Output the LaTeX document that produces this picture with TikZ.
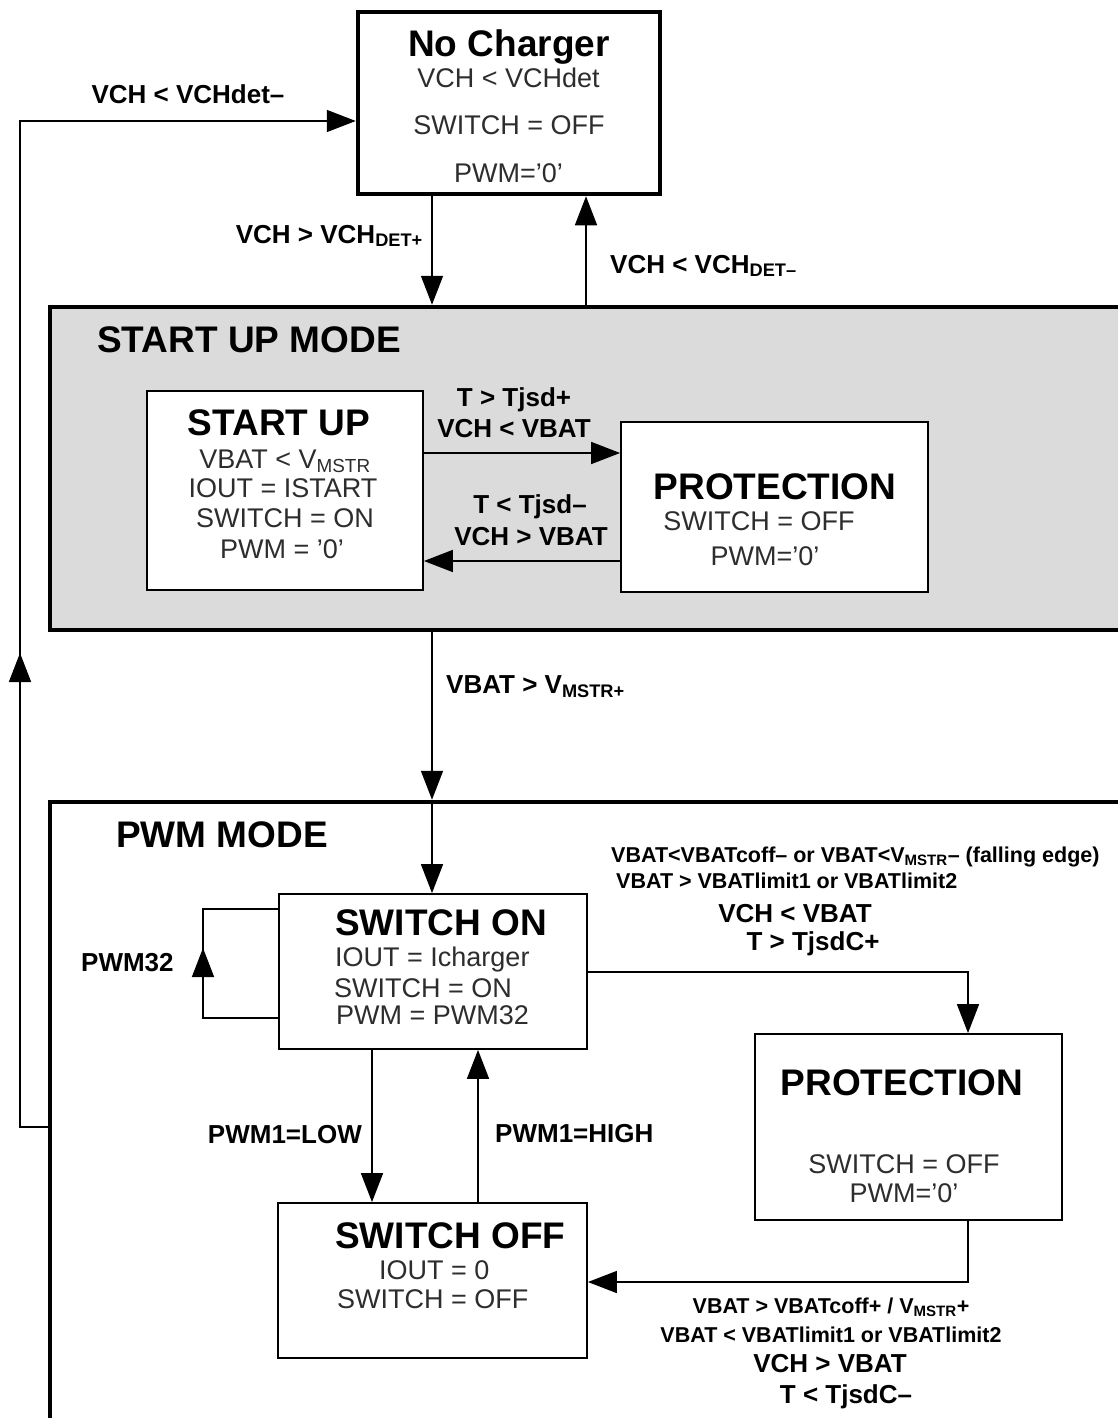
\documentclass[tikz,border=0pt]{standalone}
\usepackage{fontspec}
\setmainfont{Liberation Sans}
\usetikzlibrary{arrows.meta}
\definecolor{modegray}{RGB}{219,219,219}
\definecolor{txt}{RGB}{45,45,45}
\tikzset{
  modebox/.style={draw, line width=4.5pt, inner sep=0pt},
  ncbox/.style={draw, line width=4.5pt, fill=white, inner sep=0pt},
  statebox/.style={draw, line width=1.8pt, fill=white, inner sep=0pt},
  conn/.style={line width=1.6pt},
  arr/.style={conn, -{Triangle[length=29pt,width=22pt]}},
  ttl/.style={inner sep=0pt, font=\fontsize{37}{40}\selectfont\bfseries},
  body/.style={inner sep=0pt, text=txt, font=\fontsize{27}{30}\selectfont},
  lbl/.style={inner sep=0pt, font=\fontsize{26}{30}\selectfont\bfseries},
  sml/.style={inner sep=0pt, font=\fontsize{21.5}{25}\selectfont\bfseries},
}
\begin{document}
\begin{tikzpicture}[x=1pt,y=-1pt]
\useasboundingbox (0,0) rectangle (1118,1418);
\clip (0,0) rectangle (1118,1418);
\fill[white] (0,0) rectangle (1118,1418);
% mode boxes
\node[modebox, fill=modegray, minimum width=1080pt, minimum height=323pt] (sum) at (590,468.5) {};
\node[modebox, fill=white, minimum width=1080pt, minimum height=640pt] (pwm) at (590,1122) {};
% state boxes
\node[ncbox, minimum width=302pt, minimum height=182pt] (nc) at (509,103) {};
\node[statebox, minimum width=276pt, minimum height=199pt] (su) at (285,490.5) {};
\node[statebox, minimum width=307pt, minimum height=170pt] (pa) at (774.5,507) {};
\node[statebox, minimum width=308pt, minimum height=155pt] (son) at (433,971.5) {};
\node[statebox, minimum width=309pt, minimum height=155pt] (soff) at (432.5,1280.5) {};
\node[statebox, minimum width=307pt, minimum height=186pt] (pb) at (908.5,1127) {};
% helper coordinates
\coordinate (x20) at (20,0);
\coordinate (x203) at (203,0);
\coordinate (x372) at (372,0);
\coordinate (x432) at (432,0);
\coordinate (x478) at (478,0);
\coordinate (x586) at (586,0);
\coordinate (x968) at (968,0);
\coordinate (y121) at (0,121);
\coordinate (y453) at (0,453);
\coordinate (y561) at (0,561);
\coordinate (y653) at (0,653);
\coordinate (y909) at (0,909);
\coordinate (y948) at (0,948);
\coordinate (y972) at (0,972);
\coordinate (y1018) at (0,1018);
\coordinate (y1127) at (0,1127);
\coordinate (y1282) at (0,1282);
% connectors
\draw[arr] (pwm.west |- y1127) -- (x20 |- y1127) -- (x20 |- y121) -- (nc.west |- y121);
\draw[arr] (x20 |- y1127) -- (x20 |- y653);
\draw[arr] (x432 |- nc.south) -- (x432 |- sum.north);
\draw[arr] (x586 |- sum.north) -- (x586 |- nc.south);
\draw[arr] (su.east |- y453) -- (pa.west |- y453);
\draw[arr] (pa.west |- y561) -- (su.east |- y561);
\draw[arr] (x432 |- sum.south) -- (x432 |- pwm.north);
\draw[arr] (x432 |- pwm.north) -- (x432 |- son.north);
\draw[conn] (son.west |- y909) -- (x203 |- y909) -- (x203 |- y1018) -- (son.west |- y1018);
\draw[arr] (x203 |- y1018) -- (x203 |- y948);
\draw[arr] (x372 |- son.south) -- (x372 |- soff.north);
\draw[arr] (x478 |- soff.north) -- (x478 |- son.south);
\draw[arr] (son.east |- y972) -- (x968 |- y972) -- (x968 |- pb.north);
\draw[arr] (x968 |- pb.south) -- (x968 |- y1282) -- (soff.east |- y1282);
% No Charger
\node[ttl, anchor=base] (tnc1) at (509,57) {No Charger};
\node[body, anchor=base] (tnc2) at (508.5,88) {VCH < VCHdet};
\node[body, anchor=base] (tnc3) at (509,135) {SWITCH = OFF};
\node[body, anchor=base] (tnc4) at (508.5,182) {PWM='0'};
% top labels
\node[lbl, anchor=base] (lvchdet) at (188,104) {VCH < VCHdet–};
\node[lbl, anchor=base east] (lvchp) at (423,243) {VCH > VCH\textsubscript{DET+}};
\node[lbl, anchor=base west] (lvchm) at (610,273) {VCH < VCH\textsubscript{DET–}};
% START UP MODE
\node[ttl, anchor=base west] (tsum) at (97,352) {START UP MODE};
\node[ttl, anchor=base] (tsu1) at (279,435) {START UP};
\node[body, anchor=base] (tsu2) at (285,468) {VBAT < V\textsubscript{MSTR}};
\node[body, anchor=base] (tsu3) at (283,497) {IOUT = ISTART};
\node[body, anchor=base] (tsu4) at (285,527) {SWITCH = ON};
\node[body, anchor=base] (tsu5) at (282,558) {PWM = '0'};
\node[lbl, anchor=base] (lt1) at (514,406) {T > Tjsd+};
\node[lbl, anchor=base] (lt2) at (514,437) {VCH < VBAT};
\node[lbl, anchor=base] (lt3) at (530,513) {T < Tjsd–};
\node[lbl, anchor=base] (lt4) at (531,545) {VCH > VBAT};
\node[ttl, anchor=base] (tpa1) at (775,499) {PROTECTION};
\node[body, anchor=base] (tpa2) at (759,530) {SWITCH = OFF};
\node[body, anchor=base] (tpa3) at (765,565) {PWM='0'};
% between modes
\node[lbl, anchor=base west] (lvm) at (446,693) {VBAT > V\textsubscript{MSTR+}};
% PWM MODE
\node[ttl, anchor=base west] (tpwm) at (116,847) {PWM MODE};
\node[ttl, anchor=base west] (tson1) at (335,935) {SWITCH ON};
\node[body, anchor=base west] (tson2) at (335,966) {IOUT = Icharger};
\node[body, anchor=base west] (tson3) at (334,997) {SWITCH = ON};
\node[body, anchor=base west] (tson4) at (336,1024) {PWM = PWM32};
\node[lbl, anchor=base west] (lp32) at (81,971) {PWM32};
\node[lbl, anchor=base east] (llow) at (362,1143) {PWM1=LOW};
\node[lbl, anchor=base west] (lhigh) at (495,1142) {PWM1=HIGH};
\node[sml, anchor=base west] (lr1) at (611,862) {VBAT<VBATcoff– or VBAT<V\textsubscript{MSTR}– (falling edge)};
\node[sml, anchor=base west] (lr2) at (616,888) {VBAT > VBATlimit1 or VBATlimit2};
\node[lbl, anchor=base] (lr3) at (795,922) {VCH < VBAT};
\node[lbl, anchor=base] (lr4) at (813,950) {T > TjsdC+};
\node[ttl, anchor=base] (tpb1) at (902,1095) {PROTECTION};
\node[body, anchor=base] (tpb2) at (904,1173) {SWITCH = OFF};
\node[body, anchor=base] (tpb3) at (904,1202) {PWM='0'};
\node[ttl, anchor=base west] (tsoff1) at (335,1248) {SWITCH OFF};
\node[body, anchor=base west] (tsoff2) at (379,1279) {IOUT = 0};
\node[body, anchor=base west] (tsoff3) at (337,1308) {SWITCH = OFF};
\node[sml, anchor=base] (lb1) at (831,1313) {VBAT > VBATcoff+ / V\textsubscript{MSTR}+};
\node[sml, anchor=base] (lb2) at (831,1342) {VBAT < VBATlimit1 or VBATlimit2};
\node[lbl, anchor=base] (lb3) at (830,1372) {VCH > VBAT};
\node[lbl, anchor=base] (lb4) at (846,1403) {T < TjsdC–};
\end{tikzpicture}
\end{document}
